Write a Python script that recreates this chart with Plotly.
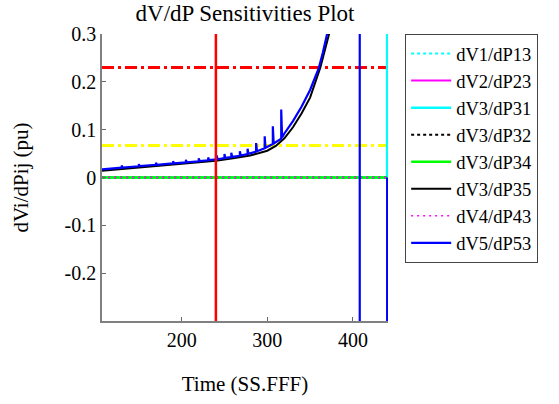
import plotly.graph_objects as go

FONT = "Liberation Serif"

# ---------------- data ----------------
t_zero = [107, 440]
v_zero = [0.0, 0.0]

# dV5/dP53 (blue) - sawtooth base with spikes, plus vertical jumps (None = gap)
blue_t = [107, 130, 130, 131, 150, 150, 151, 170, 170, 171, 190, 190, 191,
          205, 205, 206, 220, 220, 221, 231, 231, 232, 241, 241, 242,
          250, 250, 251, 258, 258, 259, 268, 268, 269, 277, 277, 278,
          287, 287, 288, 297, 297, 298, 306.5, 306.5, 307.5, 316.3, 316.3, 317.3,
          320, 330, 340, 350, 360, 365, 370, 375,
          None, 408, 408, None, 440, 440]
blue_v = [0.017, 0.0205, 0.025, 0.0207, 0.0235, 0.028, 0.0237, 0.0265, 0.031, 0.0267,
          0.0295, 0.034, 0.0297, 0.0315, 0.037, 0.0317, 0.034, 0.040, 0.0342,
          0.036, 0.042, 0.0362, 0.038, 0.046, 0.0382, 0.0405, 0.049, 0.041,
          0.0425, 0.052, 0.043, 0.0455, 0.055, 0.046, 0.049, 0.060, 0.0495,
          0.054, 0.072, 0.055, 0.061, 0.086, 0.062, 0.070, 0.107, 0.071,
          0.081, 0.142, 0.084,
          0.092, 0.118, 0.148, 0.183, 0.228, 0.262, 0.300, 0.340,
          None, -0.35, 0.35, None, 0.0, -0.35]

# dV3/dP35 (black) smooth
black_t = [107, 140, 180, 220, 240, 260, 280, 300, 310, 320, 330, 340, 350, 362, 372.5, 378]
black_v = [0.014, 0.019, 0.025, 0.031, 0.035, 0.040, 0.046, 0.056, 0.066, 0.082,
           0.105, 0.134, 0.167, 0.230, 0.300, 0.340]

# dV3/dP31 (cyan) along zero then vertical at the end
cyan_t = [107, 440, 440]
cyan_v = [0.0, 0.0, 0.35]

# threshold lines
red_h_level = [0.23, 0.23]
yellow_h_level = [0.067, 0.067]
red_v_t = [240, 240]
v_span = [-0.35, 0.35]

# stray marks below the axis
dot_t = [393.4, 413.9]
dot_v = [-0.395, -0.395]
dot_c = ["#ffff00", "#ff0000"]

legend_names = ["dV1/dP13", "dV2/dP23", "dV3/dP31", "dV3/dP32",
                "dV3/dP34", "dV3/dP35", "dV4/dP43", "dV5/dP53"]

x_ticks = [200, 300, 400]
y_ticks = [-0.2, -0.1, 0, 0.1, 0.2, 0.3]
y_ticktext = ["-0.2", "-0.1", "0", "0.1", "0.2", "0.3"]

# ---------------- figure ----------------
fig = go.Figure()

# thresholds (below curves)
fig.add_trace(go.Scatter(x=t_zero, y=red_h_level, mode="lines", showlegend=False,
                         line=dict(color="#ff0000", width=3, dash="12px,4px,3px,4px"),
                         hoverinfo="skip"))
fig.add_trace(go.Scatter(x=t_zero, y=yellow_h_level, mode="lines", showlegend=False,
                         line=dict(color="#ffff00", width=3, dash="12px,4px,3px,4px"),
                         hoverinfo="skip"))

fig.add_trace(go.Scatter(x=t_zero, y=v_zero, mode="lines", name=legend_names[0],
                         line=dict(color="#00ffff", width=2, dash="dot")))
fig.add_trace(go.Scatter(x=t_zero, y=v_zero, mode="lines", name=legend_names[1],
                         line=dict(color="#ff00ff", width=2)))
fig.add_trace(go.Scatter(x=cyan_t, y=cyan_v, mode="lines", name=legend_names[2],
                         line=dict(color="#00ffff", width=2.5)))
fig.add_trace(go.Scatter(x=t_zero, y=v_zero, mode="lines", name=legend_names[3],
                         line=dict(color="#000000", width=2, dash="dot")))
fig.add_trace(go.Scatter(x=t_zero, y=v_zero, mode="lines", name=legend_names[4],
                         line=dict(color="#00ff00", width=2.5)))
fig.add_trace(go.Scatter(x=black_t, y=black_v, mode="lines", name=legend_names[5],
                         line=dict(color="#000000", width=2)))
fig.add_trace(go.Scatter(x=t_zero, y=v_zero, mode="lines", name=legend_names[6],
                         line=dict(color="#ff00ff", width=1.5, dash="2px,4px")))
fig.add_trace(go.Scatter(x=blue_t, y=blue_v, mode="lines", name=legend_names[7],
                         line=dict(color="#0000ff", width=2.2)))

fig.add_trace(go.Scatter(x=red_v_t, y=v_span, mode="lines", showlegend=False,
                         line=dict(color="#ff0000", width=2.5), hoverinfo="skip"))

fig.add_trace(go.Scatter(x=dot_t, y=dot_v, mode="markers", showlegend=False,
                         cliponaxis=False, hoverinfo="skip",
                         marker=dict(color=dot_c, size=3)))

fig.update_layout(
    width=559, height=404,
    margin=dict(l=102, r=171, t=34, b=80),
    paper_bgcolor="white", plot_bgcolor="white",
    font=dict(family=FONT, size=20, color="black"),
    title=dict(text="dV/dP Sensitivities Plot", x=0.5, xref="paper",
               y=1 - 13 / 404, yref="container", xanchor="center", yanchor="middle",
               font=dict(family=FONT, size=23, color="black")),
    showlegend=True,
    legend=dict(x=1.06, y=1.0, xanchor="left", yanchor="top",
                bgcolor="white", bordercolor="#444444", borderwidth=1,
                font=dict(family=FONT, size=18.5, color="black"),
                itemwidth=40, tracegroupgap=0),
)

fig.update_xaxes(range=[107, 441], tickvals=x_ticks, ticks="inside", ticklen=4,
                 tickcolor="#666666", showline=True, linecolor="#808080", linewidth=1.5,
                 showgrid=False, zeroline=False, mirror=False,
                 title=dict(text="Time (SS.FFF)", standoff=27,
                            font=dict(family=FONT, size=21)),
                 tickfont=dict(family=FONT, size=20))
fig.update_yaxes(range=[-0.3, 0.3], tickvals=y_ticks, ticktext=y_ticktext,
                 ticks="inside", ticklen=4, tickcolor="#666666",
                 showline=True, linecolor="#808080", linewidth=1.5,
                 showgrid=False, zeroline=False, mirror=False,
                 title=dict(text="dVi/dPij (pu)", standoff=30,
                            font=dict(family=FONT, size=21)),
                 tickfont=dict(family=FONT, size=20))

fig.write_html("out.html")
